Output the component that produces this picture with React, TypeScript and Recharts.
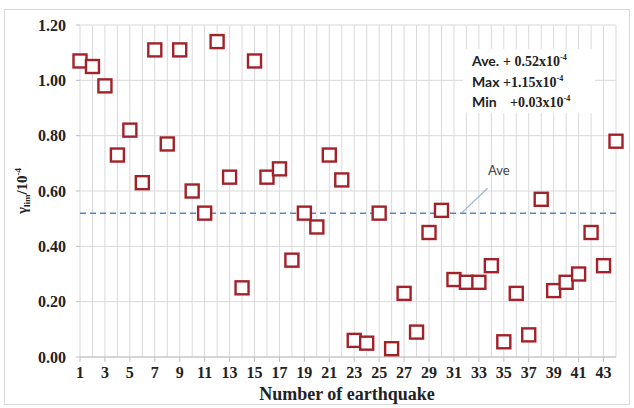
import {
  ScatterChart,
  Scatter,
  XAxis,
  YAxis,
  CartesianGrid,
  ReferenceLine,
  Customized,
} from "recharts";

const quakeNo = [
  1, 2, 3, 4, 5, 6, 7, 8, 9, 10, 11, 12, 13, 14, 15, 16, 17, 18, 19, 20, 21, 22,
  23, 24, 25, 26, 27, 28, 29, 30, 31, 32, 33, 34, 35, 36, 37, 38, 39, 40, 41, 42,
  43, 44,
];
const gammaLim = [
  1.07, 1.05, 0.98, 0.73, 0.82, 0.63, 1.11, 0.77, 1.11, 0.6, 0.52, 1.14, 0.65,
  0.25, 1.07, 0.65, 0.68, 0.35, 0.52, 0.47, 0.73, 0.64, 0.06, 0.05, 0.52, 0.03,
  0.23, 0.09, 0.45, 0.53, 0.28, 0.27, 0.27, 0.33, 0.055, 0.23, 0.08, 0.57, 0.24,
  0.27, 0.3, 0.45, 0.33, 0.78,
];
const xLabels = [1, 3, 5, 7, 9, 11, 13, 15, 17, 19, 21, 23, 25, 27, 29, 31, 33, 35, 37, 39, 41, 43];
const yTicks = [0, 0.2, 0.4, 0.6, 0.8, 1.0, 1.2];
const average = 0.52;
const noteNames = ["Ave.", "Max", "Min"];
const noteValues = ["+ 0.52x10", "+1.15x10", "+0.03x10"];

const data = quakeNo.map((n, i) => ({ n, v: gammaLim[i] }));

const SERIF = "'Liberation Serif', 'Times New Roman', serif";
const SANS = "Lato, 'Liberation Sans', sans-serif";
const RED = "#A3222A";

function Square(props: any) {
  const { cx, cy } = props;
  const s = 13;
  return (
    <rect x={cx - s / 2} y={cy - s / 2} width={s} height={s} fill="#fff" stroke={RED} strokeWidth={2.4} />
  );
}

function XTick(props: any) {
  const { x, y, payload } = props;
  if (!xLabels.includes(payload.value)) return null;
  return (
    <g>
      <line x1={x} x2={x} y1={357} y2={362} stroke="#BFBFBF" />
      <text x={x} y={y} dy={12} textAnchor="middle" fontFamily={SERIF} fontWeight="bold" fontSize={16} fill="#222">
        {payload.value}
      </text>
    </g>
  );
}

function YTitle() {
  return (
    <text
      transform="translate(27,191) rotate(-90)"
      textAnchor="middle"
      fontFamily={SERIF}
      fontWeight="bold"
      fontSize={15}
      fill="#222"
    >
      γ<tspan fontSize={9} dy={3}>lim</tspan>
      <tspan dy={-3}>/10</tspan>
      <tspan fontSize={9} dy={-6}>-4</tspan>
    </text>
  );
}

function XTitle() {
  return (
    <text x={347} y={400} textAnchor="middle" fontFamily={SERIF} fontWeight="bold" fontSize={18} fill="#222">
      Number of earthquake
    </text>
  );
}

function Notes() {
  const baselines = [66, 87, 107];
  return (
    <g>
      <rect x={463} y={49} width={132} height={64} fill="#fff" />
      {noteNames.map((name, i) => (
        <text key={name} y={baselines[i]} fontWeight="bold" fontSize={14} fill="#222">
          <tspan x={472} fontFamily={SANS}>{name}</tspan>
          <tspan x={i === 2 ? 510 : 503} fontFamily={SERIF}>{noteValues[i]}</tspan>
          <tspan fontFamily={SERIF} fontSize={8} dy={-6}>-4</tspan>
        </text>
      ))}
      <text x={488} y={175} fontFamily={SANS} fontSize={13} fill="#444">
        Ave
      </text>
      <YTitle />
      <XTitle />
    </g>
  );
}

export default function App() {
  return (
    <div style={{ position: "fixed", left: 0, top: 0, width: 634, height: 408, background: "#fff" }}>
      <div
        style={{
          position: "absolute",
          left: 4,
          top: 9,
          width: 624,
          height: 394,
          border: "1px solid #D9D9D9",
        }}
      />
      <div style={{ position: "absolute", left: 0, top: 0 }}>
        <ScatterChart width={634} height={408} margin={{ top: 25, right: 18, bottom: 21, left: 0 }}>
          <CartesianGrid stroke="#D9D9D9" />
          <XAxis
            type="number"
            dataKey="n"
            domain={[1, 44]}
            ticks={quakeNo}
            interval={0}
            height={30}
            tickLine={false}
            tickSize={5}
            tickMargin={4}
            axisLine={{ stroke: "#BFBFBF" }}
            tick={<XTick />}
          />
          <YAxis
            type="number"
            dataKey="v"
            domain={[0, 1.2]}
            ticks={yTicks}
            width={80}
            axisLine={false}
            tickSize={4}
            tickMargin={10}
            tickLine={{ stroke: "#BFBFBF" }}
            tickFormatter={(v: number) => v.toFixed(2)}
            tick={{ fontFamily: SERIF, fontWeight: "bold", fontSize: 16, fill: "#222" }}
          />
          <ReferenceLine y={average} stroke="#5B87BF" strokeWidth={1.5} strokeDasharray="6 4" />
          <ReferenceLine
            segment={[
              { x: 31.6, y: 0.52 },
              { x: 33.7, y: 0.61 },
            ]}
            stroke="#9DB3CC"
            strokeWidth={1.2}
          />
          <Customized component={Notes} />
          <Scatter data={data} shape={<Square />} isAnimationActive={false} />
        </ScatterChart>
      </div>
    </div>
  );
}
